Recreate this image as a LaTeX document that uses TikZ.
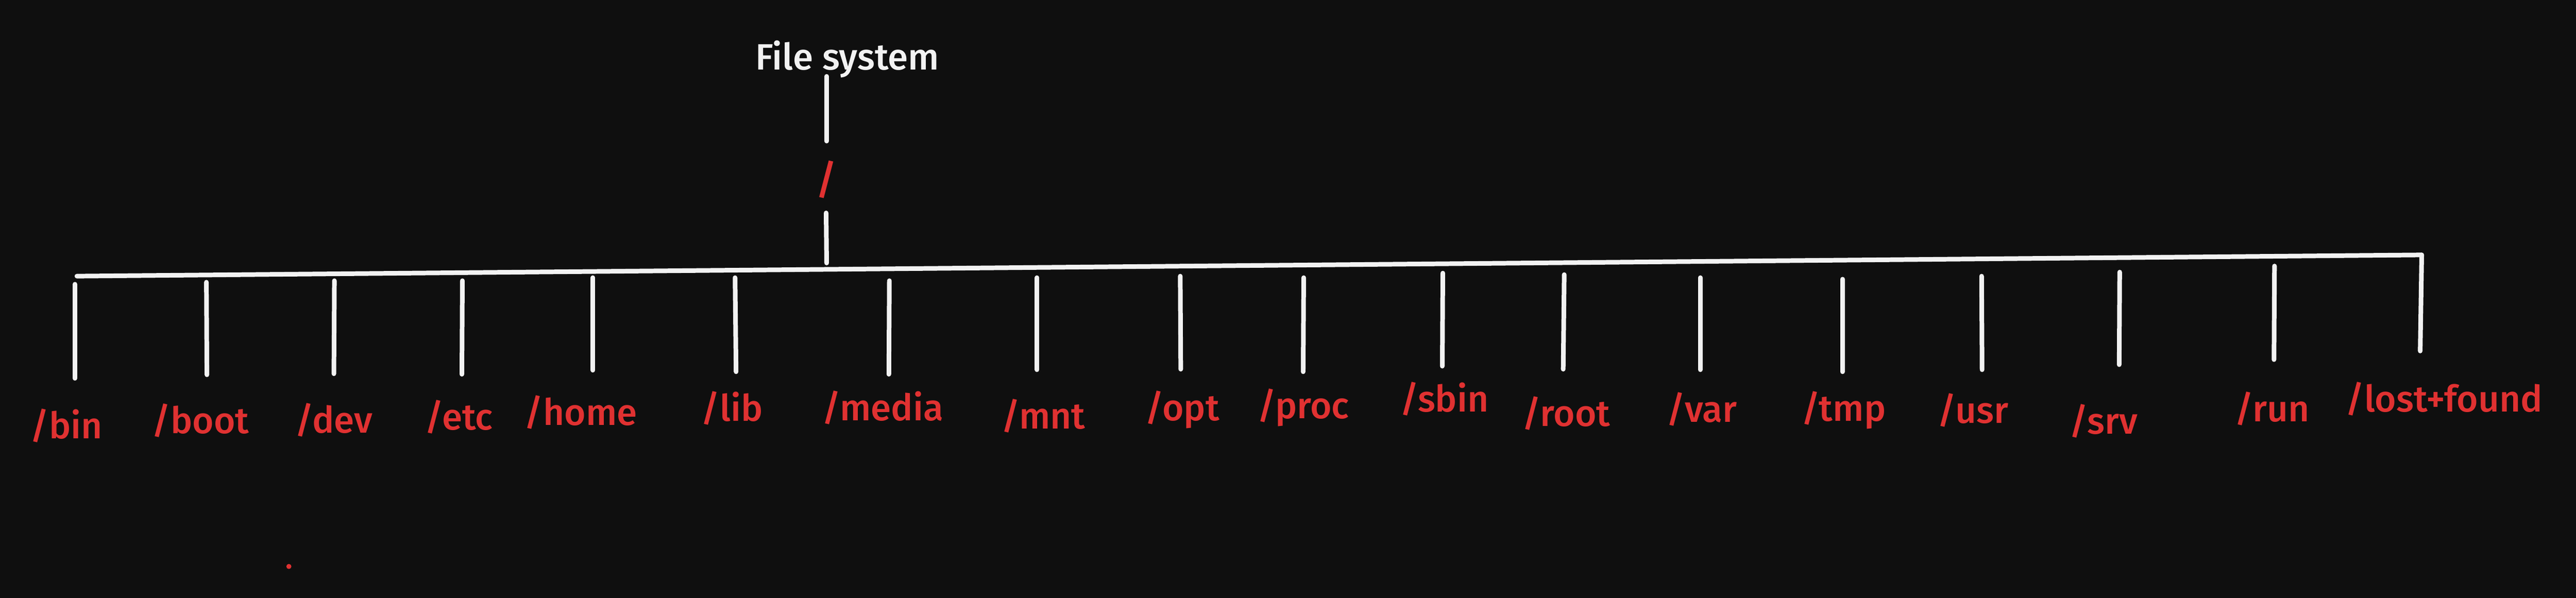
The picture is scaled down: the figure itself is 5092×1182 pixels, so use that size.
\documentclass[tikz,border=0pt]{standalone}
\usepackage{fontspec}
\setmainfont{Fira Sans Medium}
\usepackage{tikz}
\definecolor{canvas}{HTML}{0F0F0F}
\definecolor{chalk}{HTML}{F2F2F2}
\definecolor{marker}{HTML}{E03131}
\tikzstyle{dirlabel}=[text=marker, inner sep=0pt, anchor=base, font=\fontsize{20.6}{24}\selectfont]
\tikzstyle{titlelabel}=[text=chalk, inner sep=0pt, anchor=base, font=\fontsize{20.6}{24}\selectfont]
\tikzstyle{branchline}=[draw=chalk, line width=2.6pt, line cap=round]
\begin{document}
\begin{tikzpicture}[x=0.01cm, y=-0.01cm]
                    \fill[canvas] (0,0) rectangle (5092,1182);
                    \node[titlelabel] (fs) at (1675,138) {File system};
                    \node[dirlabel, anchor=center, font=\fontsize{23}{26}\selectfont] (slash) at (1634,355) {/};
                    \coordinate (fs stem top) at (1634,151);
                    \coordinate (fs stem bot) at (1634,279);
                    \coordinate (slash stem top) at (1633,421);
                    \coordinate (slash stem bot) at (1634,520);
                    \draw[branchline] (fs stem top)--(fs stem bot);
                    \draw[branchline] (slash stem top)--(slash stem bot);
                    \coordinate (bar west) at (152,546);
                    \coordinate (bar east) at (4787,504);
                    \draw[branchline] (bar west)--(bar east);
                    \node[dirlabel] (bin)   at (131,867)  {/bin};
                    \node[dirlabel] (boot)  at (396,857)  {/boot};
                    \node[dirlabel] (dev)   at (660,856)  {/dev};
                    \node[dirlabel] (etc)   at (907,850)  {/etc};
                    \node[dirlabel] (home)  at (1148,841) {/home};
                    \node[dirlabel] (lib)   at (1447,833) {/lib};
                    \node[dirlabel] (media) at (1745,832) {/media};
                    \node[dirlabel] (mnt)   at (2062,848) {/mnt};
                    \node[dirlabel] (opt)   at (2337,832) {/opt};
                    \node[dirlabel] (proc)  at (2576,827) {/proc};
                    \node[dirlabel] (sbin)  at (2855,814) {/sbin};
                    \node[dirlabel] (rootdir) at (3096,843) {/root};
                    \node[dirlabel] (var)   at (3364,835) {/var};
                    \node[dirlabel] (tmp)   at (3644,833) {/tmp};
                    \node[dirlabel] (usr)   at (3900,837) {/usr};
                    \node[dirlabel] (srv)   at (4158,858) {/srv};
                    \node[dirlabel] (run)   at (4491,834) {/run};
                    \node[dirlabel] (lost)  at (4831,814) {/lost+found};
                    \coordinate (bin a) at (148,562);    \coordinate (bin b) at (148,748);
                    \coordinate (boot a) at (408,558);   \coordinate (boot b) at (409,741);
                    \coordinate (dev a) at (661,555);    \coordinate (dev b) at (660,739);
                    \coordinate (etc a) at (914,555);    \coordinate (etc b) at (913,740);
                    \coordinate (home a) at (1172,549);  \coordinate (home b) at (1172,732);
                    \coordinate (lib a) at (1453,549);   \coordinate (lib b) at (1455,735);
                    \coordinate (media a) at (1758,555); \coordinate (media b) at (1757,740);
                    \coordinate (mnt a) at (2050,549);   \coordinate (mnt b) at (2050,731);
                    \coordinate (opt a) at (2333,546);   \coordinate (opt b) at (2334,730);
                    \coordinate (proc a) at (2577,549);  \coordinate (proc b) at (2576,735);
                    \coordinate (sbin a) at (2852,540);  \coordinate (sbin b) at (2851,724);
                    \coordinate (root a) at (3092,543);  \coordinate (root b) at (3090,730);
                    \coordinate (var a) at (3361,549);   \coordinate (var b) at (3361,731);
                    \coordinate (tmp a) at (3642,552);   \coordinate (tmp b) at (3642,735);
                    \coordinate (usr a) at (3917,546);   \coordinate (usr b) at (3918,731);
                    \coordinate (srv a) at (4190,538);   \coordinate (srv b) at (4189,721);
                    \coordinate (run a) at (4496,526);   \coordinate (run b) at (4495,711);
                    \coordinate (lost b) at (4784,694);
                    \draw[branchline] (bin a)--(bin b);
                    \draw[branchline] (boot a)--(boot b);
                    \draw[branchline] (dev a)--(dev b);
                    \draw[branchline] (etc a)--(etc b);
                    \draw[branchline] (home a)--(home b);
                    \draw[branchline] (lib a)--(lib b);
                    \draw[branchline] (media a)--(media b);
                    \draw[branchline] (mnt a)--(mnt b);
                    \draw[branchline] (opt a)--(opt b);
                    \draw[branchline] (proc a)--(proc b);
                    \draw[branchline] (sbin a)--(sbin b);
                    \draw[branchline] (root a)--(root b);
                    \draw[branchline] (var a)--(var b);
                    \draw[branchline] (tmp a)--(tmp b);
                    \draw[branchline] (usr a)--(usr b);
                    \draw[branchline] (srv a)--(srv b);
                    \draw[branchline] (run a)--(run b);
                    \draw[branchline] (bar east)--(lost b);
                    \fill[marker] (571,1120) circle (5);
                \end{tikzpicture}
\end{document}
